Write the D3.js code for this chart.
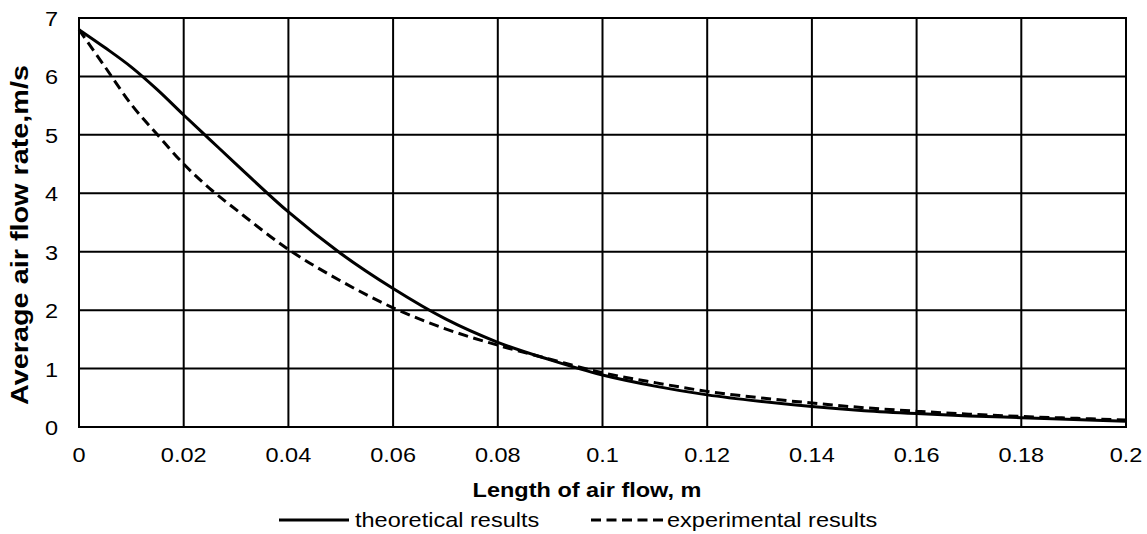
<!DOCTYPE html>
<html>
<head>
<meta charset="utf-8">
<script src="https://cdn.jsdelivr.net/npm/d3@7"></script>
<style>
  body { margin: 0; background: #fff; }
  text { font-family: 'Liberation Sans', Arial, sans-serif; fill: #000; }
</style>
</head>
<body>
<script>
var width = 1147
var height = 534

// x positions, m
var lengths = [0, 0.005, 0.01, 0.015, 0.02, 0.025, 0.03, 0.04, 0.05, 0.06, 0.07, 0.08, 0.09, 0.1,
  0.11, 0.12, 0.13, 0.14, 0.15, 0.16, 0.17, 0.18, 0.19, 0.2]
// average air flow rate, m/s
var theoretical = [6.8, 6.49, 6.16, 5.77, 5.34, 4.92, 4.5, 3.68, 2.97, 2.37, 1.85, 1.45, 1.15, 0.89,
  0.7, 0.55, 0.44, 0.35, 0.28, 0.23, 0.19, 0.16, 0.13, 0.1]
var experimental = [6.8, 6.16, 5.52, 5.0, 4.5, 4.08, 3.72, 3.04, 2.5, 2.04, 1.68, 1.4, 1.16, 0.93,
  0.76, 0.61, 0.5, 0.41, 0.33, 0.27, 0.22, 0.18, 0.15, 0.12]

var xTicks = [0, 0.02, 0.04, 0.06, 0.08, 0.1, 0.12, 0.14, 0.16, 0.18, 0.2]
var yTicks = [0, 1, 2, 3, 4, 5, 6, 7]
var seriesNames = ['theoretical results', 'experimental results']

var plot = { left: 79, right: 1126, top: 18, bottom: 427 }
var stretch = 1.12 // glyphs in the picture are a bit wider than Arial
var fontSize = 21
var dash = '10,5.5'

var svg = d3.select('body').append('svg')
  .attr('width', width)
  .attr('height', height)

var x = d3.scaleLinear().domain([0, 0.2]).range([plot.left, plot.right])
var y = d3.scaleLinear().domain([0, 7]).range([plot.bottom, plot.top])

function label (g, px, py, str, anchor, bold) {
  return g.append('g')
    .attr('transform', 'translate(' + px + ',' + py + ') scale(' + stretch + ',1)')
    .append('text')
    .attr('text-anchor', anchor)
    .style('font-size', fontSize + 'px')
    .style('font-weight', bold ? 'bold' : 'normal')
    .text(str)
}

// grid
var grid = svg.append('g')
grid.selectAll('.vgrid')
  .data(xTicks)
  .enter().append('line')
  .attr('class', 'vgrid')
  .attr('x1', function (d) { return x(d) })
  .attr('x2', function (d) { return x(d) })
  .attr('y1', y(0))
  .attr('y2', y(7))
  .attr('stroke', '#000')
  .attr('stroke-width', 2)
grid.selectAll('.hgrid')
  .data(yTicks)
  .enter().append('line')
  .attr('class', 'hgrid')
  .attr('x1', x(0) - 1)
  .attr('x2', x(0.2) + 1)
  .attr('y1', function (d) { return y(d) })
  .attr('y2', function (d) { return y(d) })
  .attr('stroke', '#000')
  .attr('stroke-width', 2)

// tick labels
var fmtX = function (d) { return d === 0 ? '0' : String(+d.toFixed(2)) }
xTicks.forEach(function (d) {
  label(svg, x(d), 462, fmtX(d), 'middle', false)
})
yTicks.forEach(function (d) {
  label(svg, 58, y(d) + 8, String(d), 'end', false)
})

// lines
var line = d3.line()
  .x(function (d, i) { return x(lengths[i]) })
  .y(function (d) { return y(d) })
  .curve(d3.curveMonotoneX)

svg.append('path')
  .datum(theoretical)
  .attr('d', line)
  .attr('fill', 'none')
  .attr('stroke', '#000')
  .attr('stroke-width', 3)

svg.append('path')
  .datum(experimental)
  .attr('d', line)
  .attr('fill', 'none')
  .attr('stroke', '#000')
  .attr('stroke-width', 3)
  .attr('stroke-dasharray', dash)

// axis titles
label(svg, 587, 497, 'Length of air flow, m', 'middle', true)

svg.append('g')
  .attr('transform', 'translate(28,235) scale(' + stretch + ',1) rotate(-90)')
  .append('text')
  .attr('text-anchor', 'middle')
  .attr('textLength', 340)
  .attr('lengthAdjust', 'spacingAndGlyphs')
  .style('font-size', fontSize + 'px')
  .style('font-weight', 'bold')
  .text('Average air flow rate,m/s')

// legend
var legend = svg.append('g')
legend.append('line')
  .attr('x1', 279).attr('x2', 349)
  .attr('y1', 520).attr('y2', 520)
  .attr('stroke', '#000').attr('stroke-width', 3)
label(legend, 355, 527, seriesNames[0], 'start', false)
legend.append('line')
  .attr('x1', 591).attr('x2', 665)
  .attr('y1', 520).attr('y2', 520)
  .attr('stroke', '#000').attr('stroke-width', 3)
  .attr('stroke-dasharray', dash)
label(legend, 667, 527, seriesNames[1], 'start', false)
</script>
</body>
</html>
